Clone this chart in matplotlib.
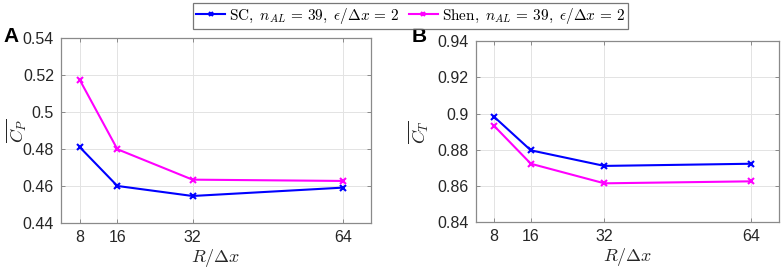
import matplotlib
matplotlib.use("Agg")
import matplotlib.pyplot as plt
from matplotlib.lines import Line2D

plt.rcParams['mathtext.fontset'] = 'cm'
plt.rcParams['font.family'] = ['Liberation Sans', 'DejaVu Sans']

resolution = [8, 16, 32, 64]
cp_sc = [0.4810, 0.4601, 0.4547, 0.4592]
cp_shen = [0.5172, 0.4799, 0.4635, 0.4628]
ct_sc = [0.8982, 0.8797, 0.8711, 0.8723]
ct_shen = [0.8932, 0.8723, 0.8615, 0.8626]

label_sc = r"$\mathrm{SC},\ n_{AL}\,=\,39,\ \epsilon/\Delta x\,=\,2$"
label_shen = r"$\mathrm{Shen},\ n_{AL}\,=\,39,\ \epsilon/\Delta x\,=\,2$"

fig = plt.figure(figsize=(7.82, 2.69), dpi=100)
axA = fig.add_axes([0.078, 0.170, 0.3964, 0.690])
axB = fig.add_axes([0.6083, 0.1736, 0.3879, 0.674])

def style(ax, ylim, yticks, yticklabels, ylabel, xpos):
    ax.set_xlim(4, 70)
    ax.set_ylim(*ylim)
    ax.set_xticks(resolution)
    ax.set_xticklabels([str(v) for v in resolution])
    ax.set_yticks(yticks)
    ax.set_yticklabels(yticklabels)
    ax.grid(True, color='#e3e3e3', linewidth=0.7)
    ax.set_axisbelow(True)
    for s in ax.spines.values():
        s.set_color('#8a8a8a')
        s.set_linewidth(0.9)
    ax.tick_params(direction='in', length=3, width=0.7, color='#8a8a8a',
                   labelcolor='#262626', labelsize=11.5, top=True, right=True,
                   pad=5)
    ax.set_xlabel(r"$R/\Delta x$", fontsize=13, color='#262626', labelpad=1)
    ax.set_ylabel(ylabel, fontsize=13, color='#262626')
    ax.yaxis.set_label_coords(xpos, 0.5)

axA.plot(resolution, cp_sc, color='#0000ff', marker='x', markersize=4,
         markeredgewidth=1.5, linewidth=1.5)
axA.plot(resolution, cp_shen, color='#ff00ff', marker='x', markersize=4,
         markeredgewidth=1.5, linewidth=1.5)
style(axA, (0.44, 0.54), [0.44, 0.46, 0.48, 0.5, 0.52, 0.54],
      ['0.44', '0.46', '0.48', '0.5', '0.52', '0.54'], r"$\overline{C_P}$", -0.108)

axB.plot(resolution, ct_sc, color='#0000ff', marker='x', markersize=4,
         markeredgewidth=1.5, linewidth=1.5)
axB.plot(resolution, ct_shen, color='#ff00ff', marker='x', markersize=4,
         markeredgewidth=1.5, linewidth=1.5)
style(axB, (0.84, 0.94), [0.84, 0.86, 0.88, 0.9, 0.92, 0.94],
      ['0.84', '0.86', '0.88', '0.9', '0.92', '0.94'], r"$\overline{C_T}$", -0.15)

fig.text(0.004, 0.843, 'A', fontsize=15, fontweight='bold', color='black')
fig.text(0.527, 0.843, 'B', fontsize=15, fontweight='bold', color='black')

handles = [Line2D([], [], color='#0000ff', marker='x', markersize=3, markeredgewidth=1.5, linewidth=1.5),
           Line2D([], [], color='#ff00ff', marker='x', markersize=3, markeredgewidth=1.5, linewidth=1.5)]
leg = fig.legend(handles, [label_sc, label_shen], loc='upper center',
                 bbox_to_anchor=(0.525, 0.99), ncol=2, fontsize=11,
                 frameon=True, fancybox=False, handlelength=1.9,
                 handletextpad=0.25, columnspacing=0.6, borderpad=0.2,
                 borderaxespad=0)
leg.get_frame().set_edgecolor('#555555')
leg.get_frame().set_linewidth(0.9)

fig.savefig('out.png', dpi=100)
